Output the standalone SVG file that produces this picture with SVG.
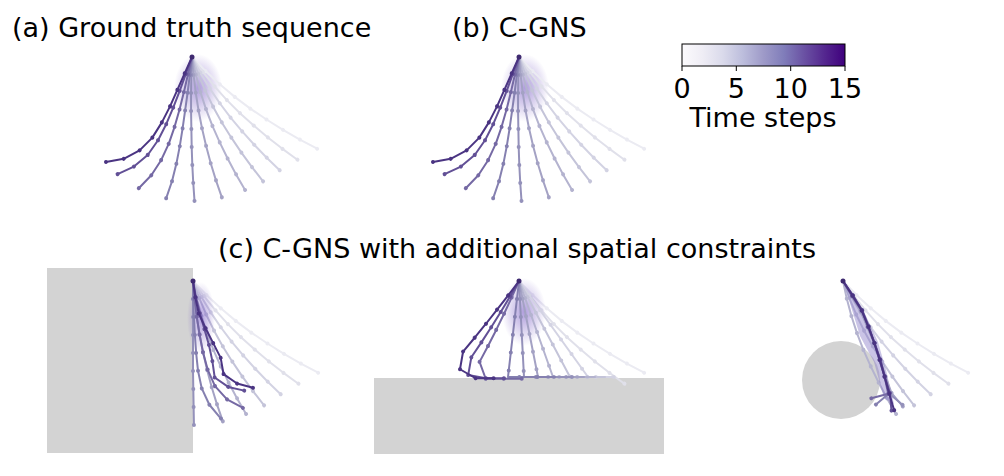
<svg xmlns="http://www.w3.org/2000/svg" xmlns:xlink="http://www.w3.org/1999/xlink" width="1004" height="476" viewBox="0 0 1004 476">
<style>
text{font-family:"DejaVu Sans","Liberation Sans",sans-serif;fill:#000}
.t{font-size:27px}
.rope{stroke-width:2;stroke-linecap:round;stroke-linejoin:round}
.r1{stroke:#ebebf2;fill:#ebebf2}
.r2{stroke:#e0e0ea;fill:#e0e0ea}
.r3{stroke:#d3d3e3;fill:#d3d3e3}
.r4{stroke:#c4c4d9;fill:#c4c4d9}
.r5{stroke:#b4b3cf;fill:#b4b3cf}
.r6{stroke:#a4a2c4;fill:#a4a2c4}
.r7{stroke:#9491ba;fill:#9491ba}
.r8{stroke:#8580b0;fill:#8580b0}
.r9{stroke:#7569a4;fill:#7569a4}
.r10{stroke:#625096;fill:#625096}
.r11{stroke:#4a3482;fill:#4a3482}
path.bent{fill:none;stroke-width:2;stroke-linecap:round;stroke-linejoin:round}
path.dots{fill:none;stroke-width:4;stroke-dasharray:0 18;stroke-linecap:round}
.obst{fill:#d3d3d3}
.anchor{fill:#3f2a70}
</style>
<defs>
<linearGradient id="cmap" x1="0" y1="0" x2="1" y2="0">
<stop offset="0" stop-color="#fcfbfd"/><stop offset="0.125" stop-color="#efedf5"/><stop offset="0.25" stop-color="#dadaeb"/><stop offset="0.375" stop-color="#bcbddc"/><stop offset="0.5" stop-color="#9e9ac8"/><stop offset="0.625" stop-color="#807dba"/><stop offset="0.75" stop-color="#6a51a3"/><stop offset="0.875" stop-color="#54278f"/><stop offset="1" stop-color="#3f007d"/>
</linearGradient>
<radialGradient id="glow"><stop offset="0" stop-color="#6f4fc0" stop-opacity="0.55"/><stop offset="1" stop-color="#6f4fc0" stop-opacity="0"/></radialGradient>
<g id="s195"><path d="M0 0V19.5" fill="none"/><circle cy="19.5" r="2" stroke="none"/></g>
<g id="s185"><path d="M0 0V18.5" fill="none"/><circle cy="18.5" r="2" stroke="none"/></g>
<g id="s18"><path d="M0 0V18" fill="none"/><circle cy="18" r="2" stroke="none"/></g>
<g id="s175"><path d="M0 0V17.5" fill="none"/><circle cy="17.5" r="2" stroke="none"/></g>
<g id="s165"><path d="M0 0V16.5" fill="none"/><circle cy="16.5" r="2" stroke="none"/></g>
</defs>
<rect width="1004" height="476" fill="#fff"/>

<text class="t" x="12" y="37">(a) Ground truth sequence</text>
<text class="t" x="452" y="37">(b) C-GNS</text>
<text class="t" x="218" y="258">(c) C-GNS with additional spatial constraints</text>

<g id="colorbar">
<rect x="682" y="44" width="163" height="22" fill="url(#cmap)" stroke="#000" stroke-width="1"/>
<path d="M682 66v5M736.3 66v5M790.7 66v5M845 66v5" stroke="#000" stroke-width="1"/>
<text class="t" x="682" y="98" text-anchor="middle">0</text>
<text class="t" x="736.3" y="98" text-anchor="middle">5</text>
<text class="t" x="790.7" y="98" text-anchor="middle">10</text>
<text class="t" x="845" y="98" text-anchor="middle">15</text>
<text class="t" x="763" y="127" text-anchor="middle">Time steps</text>
</g>

<g id="panel-a">
<ellipse cx="198" cy="88" rx="24" ry="34" fill="url(#glow)"/>
<g id="A12">
<g class="rope r1" transform="translate(192 57) rotate(-44)"><use href="#s195"/><g transform="translate(0 19.5) rotate(-3)"><use href="#s195"/><g transform="translate(0 19.5) rotate(-3)"><use href="#s195"/><g transform="translate(0 19.5) rotate(-3)"><use href="#s195"/><g transform="translate(0 19.5) rotate(-3)"><use href="#s195"/><g transform="translate(0 19.5) rotate(-2)"><use href="#s195"/><g transform="translate(0 19.5) rotate(-2)"><use href="#s195"/><g transform="translate(0 19.5) rotate(-2)"><use href="#s195"/></g></g></g></g></g></g></g></g>
<g class="rope r2" transform="translate(192 57) rotate(-36)"><use href="#s185"/><g transform="translate(0 18.5) rotate(-3)"><use href="#s185"/><g transform="translate(0 18.5) rotate(-3)"><use href="#s185"/><g transform="translate(0 18.5) rotate(-3)"><use href="#s185"/><g transform="translate(0 18.5) rotate(-3)"><use href="#s185"/><g transform="translate(0 18.5) rotate(-2)"><use href="#s185"/><g transform="translate(0 18.5) rotate(-2)"><use href="#s185"/><g transform="translate(0 18.5) rotate(-2)"><use href="#s185"/></g></g></g></g></g></g></g></g>
</g>
<g id="A345">
<g class="rope r3" transform="translate(192 57) rotate(-28)"><use href="#s18"/><g transform="translate(0 18) rotate(-3)"><use href="#s18"/><g transform="translate(0 18) rotate(-3)"><use href="#s18"/><g transform="translate(0 18) rotate(-3)"><use href="#s18"/><g transform="translate(0 18) rotate(-3)"><use href="#s18"/><g transform="translate(0 18) rotate(-2)"><use href="#s18"/><g transform="translate(0 18) rotate(-2)"><use href="#s18"/><g transform="translate(0 18) rotate(-2)"><use href="#s18"/></g></g></g></g></g></g></g></g>
<g class="rope r4" transform="translate(192 57) rotate(-20)"><use href="#s18"/><g transform="translate(0 18) rotate(-3)"><use href="#s18"/><g transform="translate(0 18) rotate(-3)"><use href="#s18"/><g transform="translate(0 18) rotate(-3)"><use href="#s18"/><g transform="translate(0 18) rotate(-3)"><use href="#s18"/><g transform="translate(0 18) rotate(-2)"><use href="#s18"/><g transform="translate(0 18) rotate(-2)"><use href="#s18"/><g transform="translate(0 18) rotate(-2)"><use href="#s18"/></g></g></g></g></g></g></g></g>
<g class="rope r5" transform="translate(192 57) rotate(-12)"><use href="#s18"/><g transform="translate(0 18) rotate(-3)"><use href="#s18"/><g transform="translate(0 18) rotate(-3)"><use href="#s18"/><g transform="translate(0 18) rotate(-3)"><use href="#s18"/><g transform="translate(0 18) rotate(-3)"><use href="#s18"/><g transform="translate(0 18) rotate(-2)"><use href="#s18"/><g transform="translate(0 18) rotate(-2)"><use href="#s18"/><g transform="translate(0 18) rotate(-2)"><use href="#s18"/></g></g></g></g></g></g></g></g>
</g>
<g id="A6">
<g class="rope r6" transform="translate(192 57) rotate(-5)"><use href="#s18"/><g transform="translate(0 18) rotate(-2)"><use href="#s18"/><g transform="translate(0 18) rotate(-2)"><use href="#s18"/><g transform="translate(0 18) rotate(-2)"><use href="#s18"/><g transform="translate(0 18) rotate(-2)"><use href="#s18"/><g transform="translate(0 18) rotate(-2)"><use href="#s18"/><g transform="translate(0 18) rotate(-2)"><use href="#s18"/><g transform="translate(0 18) rotate(-2)"><use href="#s18"/></g></g></g></g></g></g></g></g>
</g>
<g id="A711">
<g class="rope r7" transform="translate(192 57) rotate(2)"><use href="#s18"/><g transform="translate(0 18) rotate(-1)"><use href="#s18"/><g transform="translate(0 18) rotate(-1)"><use href="#s18"/><g transform="translate(0 18) rotate(-1)"><use href="#s18"/><g transform="translate(0 18) rotate(0)"><use href="#s18"/><g transform="translate(0 18) rotate(-1)"><use href="#s18"/><g transform="translate(0 18) rotate(-1)"><use href="#s18"/><g transform="translate(0 18) rotate(-1)"><use href="#s18"/></g></g></g></g></g></g></g></g>
<g class="rope r8" transform="translate(192 57) rotate(7)"><use href="#s18"/><g transform="translate(0 18) rotate(0)"><use href="#s18"/><g transform="translate(0 18) rotate(1)"><use href="#s18"/><g transform="translate(0 18) rotate(0)"><use href="#s18"/><g transform="translate(0 18) rotate(1)"><use href="#s18"/><g transform="translate(0 18) rotate(2)"><use href="#s18"/><g transform="translate(0 18) rotate(3)"><use href="#s18"/><g transform="translate(0 18) rotate(5)"><use href="#s18"/></g></g></g></g></g></g></g></g>
<g class="rope r9" transform="translate(192 57) rotate(13)"><use href="#s18"/><g transform="translate(0 18) rotate(0)"><use href="#s18"/><g transform="translate(0 18) rotate(1)"><use href="#s18"/><g transform="translate(0 18) rotate(2)"><use href="#s18"/><g transform="translate(0 18) rotate(3)"><use href="#s18"/><g transform="translate(0 18) rotate(6)"><use href="#s18"/><g transform="translate(0 18) rotate(8)"><use href="#s18"/><g transform="translate(0 18) rotate(11)"><use href="#s18"/></g></g></g></g></g></g></g></g>
<g class="rope r10" transform="translate(192 57) rotate(20)"><use href="#s18"/><g transform="translate(0 18) rotate(0)"><use href="#s18"/><g transform="translate(0 18) rotate(1)"><use href="#s18"/><g transform="translate(0 18) rotate(2)"><use href="#s18"/><g transform="translate(0 18) rotate(4)"><use href="#s18"/><g transform="translate(0 18) rotate(8)"><use href="#s18"/><g transform="translate(0 18) rotate(15)"><use href="#s18"/><g transform="translate(0 18) rotate(15)"><use href="#s18"/></g></g></g></g></g></g></g></g>
<g class="rope r11" transform="translate(192 57) rotate(24)"><use href="#s18"/><g transform="translate(0 18) rotate(0)"><use href="#s18"/><g transform="translate(0 18) rotate(0)"><use href="#s18"/><g transform="translate(0 18) rotate(3)"><use href="#s18"/><g transform="translate(0 18) rotate(5)"><use href="#s18"/><g transform="translate(0 18) rotate(13)"><use href="#s18"/><g transform="translate(0 18) rotate(17)"><use href="#s18"/><g transform="translate(0 18) rotate(18)"><use href="#s18"/></g></g></g></g></g></g></g></g>
</g>
<circle class="anchor" cx="192" cy="57" r="2.5"/>
</g>

<g id="panel-b">
<use href="#panel-a" transform="translate(327 0)"/>
</g>

<g id="panel-c1">
<rect class="obst" x="47" y="268" width="146" height="185"/>
<use href="#A12" transform="translate(1 224)"/>
<use href="#A345" transform="translate(1 224)"/>
<use href="#A6" transform="translate(1 224)"/>
<ellipse cx="201" cy="318" rx="14" ry="36" fill="url(#glow)"/>
<g class="rope r7" transform="translate(193 281) rotate(0)"><use href="#s18"/><g transform="translate(0 18) rotate(0)"><use href="#s18"/><g transform="translate(0 18) rotate(0)"><use href="#s18"/><g transform="translate(0 18) rotate(0)"><use href="#s18"/><g transform="translate(0 18) rotate(0)"><use href="#s18"/><g transform="translate(0 18) rotate(-1)"><use href="#s18"/><g transform="translate(0 18) rotate(0)"><use href="#s18"/><g transform="translate(0 18) rotate(0)"><use href="#s18"/></g></g></g></g></g></g></g></g>
<g class="rope r8" transform="translate(193 281) rotate(-1)"><use href="#s18"/><g transform="translate(0 18) rotate(-1)"><use href="#s18"/><g transform="translate(0 18) rotate(-1)"><use href="#s18"/><g transform="translate(0 18) rotate(-1)"><use href="#s18"/><g transform="translate(0 18) rotate(-2)"><use href="#s18"/><g transform="translate(0 18) rotate(-6)"><use href="#s18"/><g transform="translate(0 18) rotate(-13)"><use href="#s18"/><g transform="translate(0 18) rotate(-15)"><use href="#s18"/></g></g></g></g></g></g></g></g>
<g class="rope r9" transform="translate(193 281) rotate(-5)"><use href="#s18"/><g transform="translate(0 18) rotate(-2)"><use href="#s18"/><g transform="translate(0 18) rotate(-2)"><use href="#s18"/><g transform="translate(0 18) rotate(-2)"><use href="#s18"/><g transform="translate(0 18) rotate(-4)"><use href="#s18"/><g transform="translate(0 18) rotate(-9)"><use href="#s18"/><g transform="translate(0 18) rotate(-18)"><use href="#s18"/><g transform="translate(0 18) rotate(-20)"><use href="#s18"/></g></g></g></g></g></g></g></g>
<g class="rope r10" transform="translate(193 281) rotate(-10)"><use href="#s165"/><g transform="translate(0 16.5) rotate(-4)"><use href="#s165"/><g transform="translate(0 16.5) rotate(-2)"><use href="#s165"/><g transform="translate(0 16.5) rotate(0)"><use href="#s165"/><g transform="translate(0 16.5) rotate(4)"><use href="#s165"/><g transform="translate(0 16.5) rotate(4)"><use href="#s165"/><g transform="translate(0 16.5) rotate(-47)"><use href="#s165"/><g transform="translate(0 16.5) rotate(-22)"><use href="#s165"/></g></g></g></g></g></g></g></g>
<g class="rope r11" transform="translate(193 281) rotate(-8)"><use href="#s165"/><g transform="translate(0 16.5) rotate(-4)"><use href="#s165"/><g transform="translate(0 16.5) rotate(-13)"><use href="#s165"/><g transform="translate(0 16.5) rotate(-2)"><use href="#s165"/><g transform="translate(0 16.5) rotate(0)"><use href="#s165"/><g transform="translate(0 16.5) rotate(17)"><use href="#s165"/><g transform="translate(0 16.5) rotate(-45)"><use href="#s165"/><g transform="translate(0 16.5) rotate(-20)"><use href="#s165"/></g></g></g></g></g></g></g></g>
<circle class="anchor" cx="193" cy="281" r="2.5"/>
</g>

<g id="panel-c2">
<rect class="obst" x="374" y="378" width="290" height="76"/>
<use href="#A12" transform="translate(327 224)"/>
<ellipse cx="524" cy="312" rx="22" ry="34" fill="url(#glow)"/>
<path class="bent r3" d="M519 281L588 377H614"/><path class="dots r3" d="M519 281L588 377H614"/>
<path class="bent r4" d="M519 281L570 377H605"/><path class="dots r4" d="M519 281L570 377H605"/>
<path class="bent r5" d="M519 281L553 377H595"/><path class="dots r5" d="M519 281L553 377H595"/>
<path class="bent r6" d="M519 281L538 377H584"/><path class="dots r6" d="M519 281L538 377H584"/>
<path class="bent r7" d="M519 281L524 377H572"/><path class="dots r7" d="M519 281L524 377H572"/>
<path class="bent r8" d="M519 281L508 377H555"/><path class="dots r8" d="M519 281L508 377H555"/>
<g class="rope r9" transform="translate(519 281) rotate(24)"><use href="#s18"/><g transform="translate(0 18) rotate(1)"><use href="#s18"/><g transform="translate(0 18) rotate(1)"><use href="#s18"/><g transform="translate(0 18) rotate(1)"><use href="#s18"/><g transform="translate(0 18) rotate(1)"><use href="#s18"/><g transform="translate(0 18) rotate(-48)"><use href="#s18"/><g transform="translate(0 18) rotate(-70)"><use href="#s18"/><g transform="translate(0 18) rotate(0)"><use href="#s18"/></g></g></g></g></g></g></g></g>
<g class="rope r10" transform="translate(519 281) rotate(30)"><use href="#s18"/><g transform="translate(0 18) rotate(1)"><use href="#s18"/><g transform="translate(0 18) rotate(1)"><use href="#s18"/><g transform="translate(0 18) rotate(1)"><use href="#s18"/><g transform="translate(0 18) rotate(1)"><use href="#s18"/><g transform="translate(0 18) rotate(-24)"><use href="#s18"/><g transform="translate(0 18) rotate(-90)"><use href="#s18"/><g transform="translate(0 18) rotate(-10)"><use href="#s18"/></g></g></g></g></g></g></g></g>
<g class="rope r11" transform="translate(519 281) rotate(37)"><use href="#s18"/><g transform="translate(0 18) rotate(1)"><use href="#s18"/><g transform="translate(0 18) rotate(0)"><use href="#s18"/><g transform="translate(0 18) rotate(1)"><use href="#s18"/><g transform="translate(0 18) rotate(1)"><use href="#s18"/><g transform="translate(0 18) rotate(-30)"><use href="#s18"/><g transform="translate(0 18) rotate(-70)"><use href="#s18"/><g transform="translate(0 18) rotate(-30)"><use href="#s18"/></g></g></g></g></g></g></g></g>
<circle class="anchor" cx="519" cy="281" r="2.5"/>
</g>

<g id="panel-c3">
<circle class="obst" cx="841" cy="380" r="39"/>
<use href="#A12" transform="translate(651 224)"/>
<use href="#A345" transform="translate(651 224)"/>
<polygon points="843,281 866,316 878,342 886,370 894,404 884,398 874,362 860,336 849,300" fill="#8a7cc8" fill-opacity="0.45"/>
<g class="rope r6" transform="translate(843 281) rotate(-30)"><use href="#s175"/><g transform="translate(0 17.5) rotate(0)"><use href="#s175"/><g transform="translate(0 17.5) rotate(6)"><use href="#s175"/><g transform="translate(0 17.5) rotate(2)"><use href="#s175"/><g transform="translate(0 17.5) rotate(2)"><use href="#s175"/><g transform="translate(0 17.5) rotate(2)"><use href="#s175"/><g transform="translate(0 17.5) rotate(-2)"><use href="#s175"/><g transform="translate(0 17.5) rotate(-20)"><use href="#s175"/></g></g></g></g></g></g></g></g>
<g class="rope r7" transform="translate(843 281) rotate(-34)"><use href="#s175"/><g transform="translate(0 17.5) rotate(4)"><use href="#s175"/><g transform="translate(0 17.5) rotate(10)"><use href="#s175"/><g transform="translate(0 17.5) rotate(-4)"><use href="#s175"/><g transform="translate(0 17.5) rotate(8)"><use href="#s175"/><g transform="translate(0 17.5) rotate(-2)"><use href="#s175"/><g transform="translate(0 17.5) rotate(4)"><use href="#s175"/><g transform="translate(0 17.5) rotate(-36)"><use href="#s175"/></g></g></g></g></g></g></g></g>
<g class="rope r8" transform="translate(843 281) rotate(-32)"><use href="#s175"/><g transform="translate(0 17.5) rotate(-3)"><use href="#s175"/><g transform="translate(0 17.5) rotate(13)"><use href="#s175"/><g transform="translate(0 17.5) rotate(4)"><use href="#s175"/><g transform="translate(0 17.5) rotate(-2)"><use href="#s175"/><g transform="translate(0 17.5) rotate(6)"><use href="#s175"/><g transform="translate(0 17.5) rotate(-2)"><use href="#s175"/><g transform="translate(0 17.5) rotate(66)"><use href="#s175"/></g></g></g></g></g></g></g></g>
<g class="rope r9" transform="translate(843 281) rotate(-31)"><use href="#s175"/><g transform="translate(0 17.5) rotate(-2)"><use href="#s175"/><g transform="translate(0 17.5) rotate(9)"><use href="#s175"/><g transform="translate(0 17.5) rotate(5)"><use href="#s175"/><g transform="translate(0 17.5) rotate(2)"><use href="#s175"/><g transform="translate(0 17.5) rotate(0)"><use href="#s175"/><g transform="translate(0 17.5) rotate(5)"><use href="#s175"/><g transform="translate(0 17.5) rotate(87)"><use href="#s175"/></g></g></g></g></g></g></g></g>
<g class="rope r10" transform="translate(843 281) rotate(-35)"><use href="#s175"/><g transform="translate(0 17.5) rotate(4)"><use href="#s175"/><g transform="translate(0 17.5) rotate(10)"><use href="#s175"/><g transform="translate(0 17.5) rotate(0)"><use href="#s175"/><g transform="translate(0 17.5) rotate(2)"><use href="#s175"/><g transform="translate(0 17.5) rotate(4)"><use href="#s175"/><g transform="translate(0 17.5) rotate(-2)"><use href="#s175"/><g transform="translate(0 17.5) rotate(12)"><use href="#s175"/></g></g></g></g></g></g></g></g>
<g class="rope r11" transform="translate(843 281) rotate(-33)"><use href="#s175"/><g transform="translate(0 17.5) rotate(1)"><use href="#s175"/><g transform="translate(0 17.5) rotate(10)"><use href="#s175"/><g transform="translate(0 17.5) rotate(2)"><use href="#s175"/><g transform="translate(0 17.5) rotate(2)"><use href="#s175"/><g transform="translate(0 17.5) rotate(2)"><use href="#s175"/><g transform="translate(0 17.5) rotate(1)"><use href="#s175"/><g transform="translate(0 17.5) rotate(-2)"><use href="#s175"/></g></g></g></g></g></g></g></g>
<circle class="anchor" cx="843" cy="281" r="2.5"/>
</g>
</svg>
